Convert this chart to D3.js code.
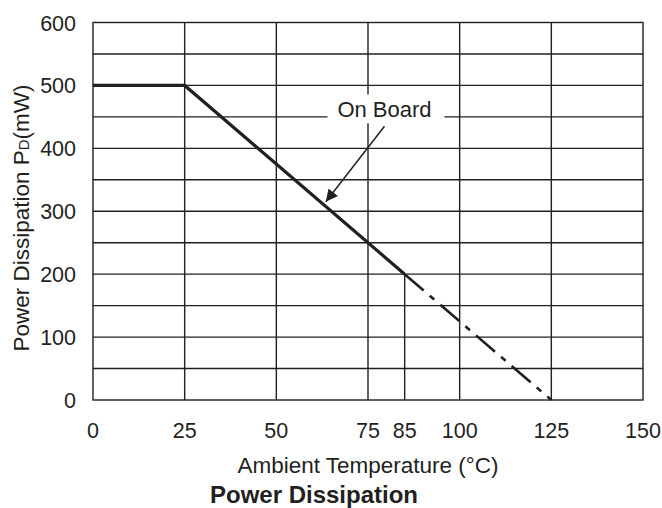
<!DOCTYPE html>
<html>
<head>
<meta charset="utf-8">
<script src="https://cdn.jsdelivr.net/npm/d3@7"></script>
<style>
  body { margin: 0; background: #fff; }
  text { font-family: "Liberation Sans", Arial, sans-serif; fill: #231f20; }
</style>
</head>
<body>
<svg width="662" height="508"></svg>
<script>
// data
var xTicks = [0, 25, 50, 75, 85, 100, 125, 150];
var yTicks = [0, 100, 200, 300, 400, 500, 600];
var yGrid = [50, 100, 150, 200, 250, 300, 350, 400, 450, 500, 550];
var xGridFull = [25, 50, 75, 100, 125];
var xGridShort = [85];          // only from 0 up to the curve
var solidTemp = [0, 25, 85];
var solidPower = [500, 500, 200];
var dashTemp = [85, 125];
var dashPower = [200, 0];
var labelText = 'On Board';

var width = 662, height = 508;
var ink = '#231f20';

var svg = d3.select('svg');
var x = d3.scaleLinear().domain([0, 150]).range([93, 643]);
var y = d3.scaleLinear().domain([0, 600]).range([400, 22.5]);

var grid = svg.append('g').attr('stroke', ink).attr('stroke-width', 1.4);
grid.selectAll('.hg').data(yGrid).enter().append('line')
    .attr('x1', x(0)).attr('x2', x(150))
    .attr('y1', d => y(d)).attr('y2', d => y(d));
grid.selectAll('.vg').data(xGridFull).enter().append('line')
    .attr('y1', y(0)).attr('y2', y(600))
    .attr('x1', d => x(d)).attr('x2', d => x(d));
grid.selectAll('.vs').data(xGridShort).enter().append('line')
    .attr('y1', y(0)).attr('y2', y(200))
    .attr('x1', d => x(d)).attr('x2', d => x(d));
grid.append('rect')
    .attr('x', x(0)).attr('y', y(600))
    .attr('width', x(150) - x(0)).attr('height', y(0) - y(600))
    .attr('fill', 'none');

// tick labels
svg.selectAll('.xt').data(xTicks).enter().append('text')
    .attr('x', d => x(d)).attr('y', y(0) + 38)
    .attr('text-anchor', 'middle').attr('font-size', 21.5)
    .text(d => d);
svg.selectAll('.yt').data(yTicks).enter().append('text')
    .attr('x', x(0) - 17).attr('y', d => y(d) + 8)
    .attr('text-anchor', 'end').attr('font-size', 21.5)
    .text(d => d);

// curve
var line = d3.line().x(d => x(d[0])).y(d => y(d[1]));
svg.append('path')
    .attr('d', line(d3.zip(solidTemp, solidPower)))
    .attr('fill', 'none').attr('stroke', ink).attr('stroke-width', 3.2);
svg.append('path')
    .attr('d', line(d3.zip(dashTemp, dashPower)))
    .attr('fill', 'none').attr('stroke', ink).attr('stroke-width', 2.6)
    .attr('stroke-dasharray', '25,8,6,8');

// label with white box and arrow
var lx = x(79.5), ly = y(458);
svg.append('rect').attr('x', lx - 57).attr('y', ly - 17.5).attr('width', 117).attr('height', 29).attr('fill', '#fff');
svg.append('text').attr('x', lx).attr('y', ly + 5).attr('text-anchor', 'middle')
    .attr('font-size', 22).text(labelText);
var ax1 = x(79.5), ay1 = y(435), ax2 = x(63.5), ay2 = y(315);
svg.append('defs').append('marker').attr('id', 'arr')
    .attr('viewBox', '0 0 10 10').attr('refX', 10).attr('refY', 5)
    .attr('markerWidth', 13).attr('markerHeight', 12).attr('markerUnits', 'userSpaceOnUse')
    .attr('orient', 'auto')
  .append('path').attr('d', 'M0,0L10,5L0,10z').attr('fill', ink);
svg.append('line').attr('x1', ax1).attr('y1', ay1).attr('x2', ax2).attr('y2', ay2)
    .attr('stroke', ink).attr('stroke-width', 1.5).attr('marker-end', 'url(#arr)');

// axis titles
svg.append('text').attr('x', 368).attr('y', 473).attr('text-anchor', 'middle')
    .attr('font-size', 22.5).text('Ambient Temperature (°C)');
var yt = svg.append('text').attr('transform', 'translate(29,218) rotate(-90)')
    .attr('text-anchor', 'middle').attr('font-size', 22.5);
yt.append('tspan').text('Power Dissipation P');
yt.append('tspan').attr('font-size', 15).text('D');
yt.append('tspan').text('(mW)');
svg.append('text').attr('x', 314).attr('y', 503).attr('text-anchor', 'middle')
    .attr('font-size', 24).attr('font-weight', 'bold').text('Power Dissipation');
</script>
</body>
</html>
